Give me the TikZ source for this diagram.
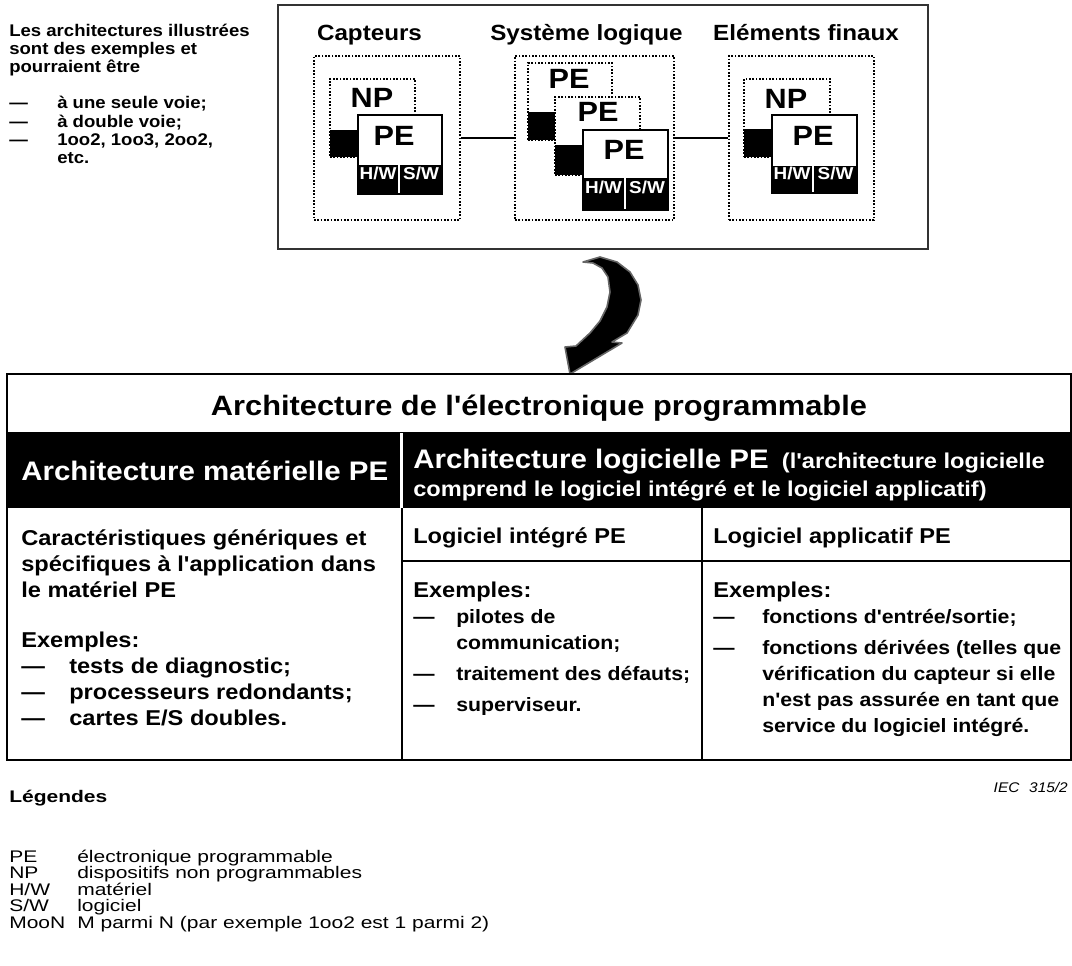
\documentclass[tikz,border=0pt]{standalone}
\usepackage{fontspec}
\setmainfont{Liberation Sans}[FakeStretch=1.1,Ligatures=TeXOff]
\newfontfamily\legfont{Liberation Sans}[FakeStretch=1.25,Ligatures=TeXOff]
\usetikzlibrary{fit}
% fixed row pitch for the tabulars
\newcommand{\rowpitch}[2]{\setbox\strutbox\hbox{\vrule height #1 depth #2 width 0pt}}

\begin{document}
\begin{tikzpicture}[x=0.75pt,y=-0.75pt,
  every node/.style={inner sep=0pt},
  dotbox/.style={draw,fill=white,line width=1.25pt,dash pattern=on 1.25pt off 1.25pt},
  pebox/.style={draw,fill=white,line width=1.5pt},
  blk/.style={fill=black},
  hwlab/.style={text=white,font=\fontsize{12.9}{12.9}\selectfont\bfseries},
  pelab/.style={font=\fontsize{20.9}{20.9}\selectfont\bfseries},
  grptitle/.style={anchor=base,font=\fontsize{16.5}{16.5}\selectfont\bfseries},
  link/.style={line width=2.2pt},
  tabline/.style={line width=1.4pt},
  bighead/.style={font=\fontsize{20.1}{20.1}\selectfont\bfseries},
  bodyl/.style={anchor=base west,font=\fontsize{16.1}{19.5}\selectfont\bfseries},
  bodyr/.style={anchor=base west,font=\fontsize{14.5}{19.5}\selectfont\bfseries},
  legab/.style={anchor=base west,font=\legfont\fontsize{12.6}{12.6}\selectfont},
]
\useasboundingbox (0,0) rectangle (1072,965);

% note on the left
\node[anchor=base west,font=\fontsize{12.66}{13.65}\selectfont\bfseries] (note) at (9,36)
  {\rowpitch{10.3pt}{3.35pt}%
   \begin{tabular}[t]{@{}p{36pt}@{}l@{}}
   \multicolumn{2}{@{}l@{}}{Les architectures illustrées}\\
   \multicolumn{2}{@{}l@{}}{sont des exemples et}\\
   \multicolumn{2}{@{}l@{}}{pourraient être}\\
   \\
   — & à une seule voie;\\
   — & à double voie;\\
   — & 1oo2, 1oo3, 2oo2,\\
     & etc.
   \end{tabular}};

% system box
\node[draw=black!80,line width=1.1pt,fit={(278,5) (928,249)}] (sys) {};
\node[grptitle] (tcapt) at (369.5,40) {Capteurs};
\node[grptitle] (tlogi) at (586.5,40) {Système logique};
\node[grptitle] (tfin) at (806,40) {Eléments finaux};

% capteurs
\node[dotbox,fit={(314,56) (460,220)}] (capt) {};
\node[dotbox,fit={(330,79) (415,157)}] (npa) {};
\node[blk,fit={(330,130) (358,157)}] (sqa) {};
\node[pebox,fit={(358,115) (442,194)}] (pea) {};
\node[blk,hwlab,fit={(358,165) (398,194)}] (hwa) {H/W};
\node[blk,hwlab,fit={(400,165) (442,194)}] (swa) {S/W};
\node[pelab] (npat) at (372,98) {NP};
\node[pelab] (peat) at (394,136) {PE};

% systeme logique
\node[dotbox,fit={(515,56) (674,220)}] (logi) {};
\node[dotbox,fit={(528,63) (612,140)}] (peb1) {};
\node[blk,fit={(528,112) (555,140)}] (sqb1) {};
\node[pelab] (peb1t) at (569,79) {PE};
\node[dotbox,fit={(555,97) (640,175)}] (peb2) {};
\node[blk,fit={(555,145) (583,175)}] (sqb2) {};
\node[pelab] (peb2t) at (598,112) {PE};
\node[pebox,fit={(583,130) (668,210)}] (peb3) {};
\node[blk,hwlab,fit={(583,178) (624,210)}] (hwb) {H/W};
\node[blk,hwlab,fit={(626,178) (668,210)}] (swb) {S/W};
\node[pelab] (peb3t) at (624,150) {PE};

% elements finaux
\node[dotbox,fit={(729,56) (874,220)}] (fin) {};
\node[dotbox,fit={(744,79) (830,157)}] (npc) {};
\node[blk,fit={(744,129) (772,157)}] (sqc) {};
\node[pebox,fit={(772,115) (857,193)}] (pec) {};
\node[blk,hwlab,fit={(772,166) (812,193)}] (hwc) {H/W};
\node[blk,hwlab,fit={(814,166) (857,193)}] (swc) {S/W};
\node[pelab] (npct) at (786,99) {NP};
\node[pelab] (pect) at (813,136) {PE};

\draw[link] (capt.east) -- (logi.west);
\draw[link] (logi.east) -- (fin.west);

% curved arrow
\filldraw[fill=black,draw=black!60,line width=1.2pt,line join=round]
  (583,262) -- (600,257) -- (617,262) -- (630,272) -- (638,285) -- (641,300)
  -- (638,315) -- (627,333) -- (612,342) -- (622,343) -- (570,374)
  -- (565,347) -- (576,346) -- (590,333) -- (600,321) -- (607,307)
  -- (610,292) -- (608,277) -- (602,268) -- (593,263) -- cycle;

% table
\node[draw,tabline,fit={(7,374) (1071,760)}] (tab) {};
\node[blk,fit={(7,433) (400,508)}] (hwhead) {};
\node[blk,fit={(403,433) (1071,508)}] (swhead) {};
\coordinate (c1t) at (402,508);
\coordinate (c1b) at (402,760);
\coordinate (c2t) at (702,508);
\coordinate (c2b) at (702,760);
\coordinate (r1l) at (402,561);
\coordinate (r1r) at (1071,561);
\draw[line width=0.8pt] (hwhead.north west) -- (swhead.north east);
\draw[tabline] (c1t) -- (c1b);
\draw[tabline] (c2t) -- (c2b);
\draw[tabline] (r1l) -- (r1r);

\node[anchor=base,font=\fontsize{21}{21}\selectfont\bfseries] (ttl) at (539,415) {Architecture de l'électronique programmable};
\node[bighead,anchor=base west,text=white] (hwtxt) at (21,480) {Architecture matérielle PE};
\node[anchor=base west,text=white,font=\fontsize{16.1}{21}\selectfont\bfseries] (swtxt) at (413,468)
  {\rowpitch{16pt}{5pt}%
   \begin{tabular}[t]{@{}l@{}}
   {\fontsize{20.1}{21}\selectfont Architecture logicielle PE}\ \ (l'architecture logicielle\\
   comprend le logiciel intégré et le logiciel applicatif)
   \end{tabular}};

\node[bodyl] (embt) at (413,543) {Logiciel intégré PE};
\node[bodyl] (appt) at (713,543) {Logiciel applicatif PE};

\node[bodyl] (hwbody) at (21,545)
  {\begin{tabular}[t]{@{}p{36pt}@{}l@{}}
   \multicolumn{2}{@{}l@{}}{Caractéristiques génériques et}\\
   \multicolumn{2}{@{}l@{}}{spécifiques à l'application dans}\\
   \multicolumn{2}{@{}l@{}}{le matériel PE}\\[18pt]
   \multicolumn{2}{@{}l@{}}{Exemples:}\\
   — & tests de diagnostic;\\
   — & processeurs redondants;\\
   — & cartes E/S doubles.
   \end{tabular}};

\node[bodyr] (embbody) at (413,597)
  {\begin{tabular}[t]{@{}p{32.25pt}@{}l@{}}
   \multicolumn{2}{@{}l@{}}{\fontsize{16.1}{19.5}\selectfont Exemples:}\\
   — & pilotes de\\
     & communication;\\[3.75pt]
   — & traitement des défauts;\\[3.75pt]
   — & superviseur.
   \end{tabular}};

\node[bodyr] (appbody) at (713,597)
  {\begin{tabular}[t]{@{}p{36.75pt}@{}l@{}}
   \multicolumn{2}{@{}l@{}}{\fontsize{16.1}{19.5}\selectfont Exemples:}\\
   — & fonctions d'entrée/sortie;\\[3.75pt]
   — & fonctions dérivées (telles que\\
     & vérification du capteur si elle\\
     & n'est pas assurée en tant que\\
     & service du logiciel intégré.
   \end{tabular}};

% legend
\node[anchor=base east,font=\fontsize{10.5}{10.5}\selectfont\itshape] (iec) at (1068,792) {IEC\hspace{0.7em}315/2};
\node[anchor=base west,font=\legfont\fontsize{12.6}{12.6}\selectfont\bfseries] (legt) at (9,802) {Légendes};
\node[legab] (lab1) at (9,862) {PE};
\node[legab] (ltx1) at (77,862) {électronique programmable};
\node[legab] (lab2) at (9,878.6) {NP};
\node[legab] (ltx2) at (77,878.6) {dispositifs non programmables};
\node[legab] (lab3) at (9,895.2) {H/W};
\node[legab] (ltx3) at (77,895.2) {matériel};
\node[legab] (lab4) at (9,911.8) {S/W};
\node[legab] (ltx4) at (77,911.8) {logiciel};
\node[legab] (lab5) at (9,928.4) {MooN};
\node[legab] (ltx5) at (77,928.4) {M parmi N (par exemple 1oo2 est 1 parmi 2)};
\end{tikzpicture}
\end{document}
